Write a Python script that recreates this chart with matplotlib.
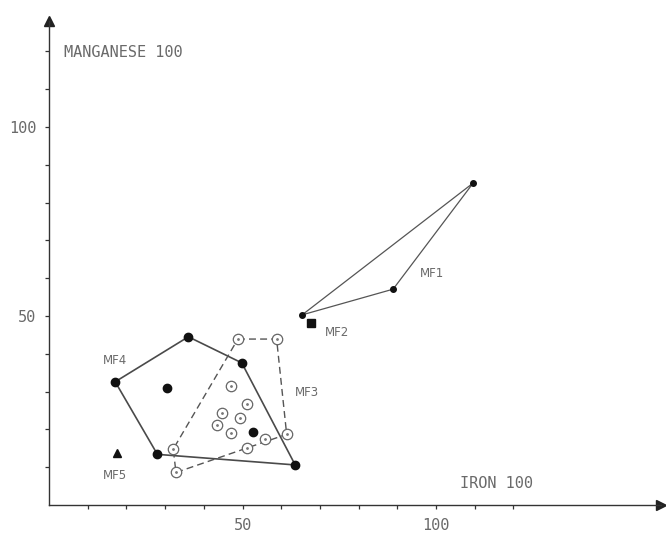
import matplotlib.pyplot as plt
import numpy as np

# values (iron 100 vs manganese 100)
mf1_x = [65.4, 88.9, 109.6]
mf1_y = [50.3, 57.1, 85.2]
mf2_x = [67.7]
mf2_y = [48.1]
mf4_x = [17.1, 36.0, 49.8, 63.6, 28.0]
mf4_y = [32.6, 44.5, 37.6, 10.6, 13.4]
mf4_in_x = [30.4, 52.8]
mf4_in_y = [30.9, 19.2]
mf3_x = [48.8, 58.8, 61.4, 32.8, 32.1]
mf3_y = [43.9, 43.9, 18.7, 8.6, 14.8]
mf3_in_x = [46.9, 51.2, 44.6, 49.4, 43.5, 47.0, 55.8, 51.1]
mf3_in_y = [31.5, 26.7, 24.3, 23.1, 21.2, 19.1, 17.4, 15.0]
mf5_x = [17.5]
mf5_y = [13.7]

ticks = list(range(10, 130, 10))
labelled = [50, 100]

LINE = '#4a4a4a'
TXT = '#6a6a6a'
MONO = 'DejaVu Sans Mono'

fig = plt.figure(figsize=(6.66, 5.36), dpi=100)
ax = fig.add_axes([0, 0, 1, 1])
ax.set_xlim(-12.66, 159.4)
ax.set_ylim(-8.2, 133.6)


def closed(xs, ys):
    return list(xs) + [xs[0]], list(ys) + [ys[0]]


# MF1 triangle
cx, cy = closed(mf1_x, mf1_y)
ax.plot(cx, cy, color='#555', lw=0.9)
ax.plot(mf1_x, mf1_y, 'o', color='#111', ms=4)
ax.plot(mf2_x, mf2_y, 's', color='#111', ms=6)

# MF4 solid polygon
cx, cy = closed(mf4_x, mf4_y)
ax.plot(cx, cy, color=LINE, lw=1.2)
ax.plot(mf4_x, mf4_y, 'o', color='#111', ms=6)
ax.plot(mf4_in_x, mf4_in_y, 'o', color='#111', ms=6)

# MF3 dashed polygon
cx, cy = closed(mf3_x, mf3_y)
ax.plot(cx, cy, color='#555', lw=1.0, ls=(0, (5, 3)))
for xs, ys in [(mf3_x, mf3_y), (mf3_in_x, mf3_in_y)]:
    ax.plot(xs, ys, 'o', mfc='white', mec='#666', mew=0.9, ms=7.5)
    ax.plot(xs, ys, '.', color='#777', ms=2)

# MF5
ax.plot(mf5_x, mf5_y, '^', color='#111', ms=6)

# group labels
for txt, x, y in [('MF1', 99, 61.3), ('MF2', 74.5, 45.6), ('MF3', 66.7, 29.7),
                  ('MF4', 17.0, 38.3), ('MF5', 17.0, 7.8)]:
    ax.text(x, y, txt, color=TXT, fontsize=8.5, ha='center', va='center')

ax.text(3.9, 119.6, 'MANGANESE 100', color=TXT, fontsize=11, va='center',
        family=MONO)
ax.text(106.2, 5.6, 'IRON 100', color=TXT, fontsize=11, va='center',
        family=MONO)

# axes with arrow heads
for s in ['top', 'right']:
    ax.spines[s].set_visible(False)
ax.spines['left'].set_position(('data', 0))
ax.spines['bottom'].set_position(('data', 0))
ax.spines['left'].set_bounds(0, 128)
ax.spines['bottom'].set_bounds(0, 158)
for s in ['left', 'bottom']:
    ax.spines[s].set_color('#333')
    ax.spines[s].set_linewidth(1.0)
ax.plot(0, 128, '^', color='#222', ms=7, clip_on=False)
ax.plot(158, 0, '>', color='#222', ms=7, clip_on=False)

ax.set_xticks(ticks)
ax.set_yticks(ticks)
ax.set_xticklabels([str(t) if t in labelled else '' for t in ticks],
                   family=MONO)
ax.set_yticklabels([str(t) if t in labelled else '' for t in ticks],
                   family=MONO)
ax.tick_params(direction='out', length=3, width=0.9, color='#333',
               labelcolor=TXT, labelsize=11)
ax.tick_params(axis='x', pad=6)
ax.tick_params(axis='y', pad=6)

fig.savefig('out.png', dpi=100)
